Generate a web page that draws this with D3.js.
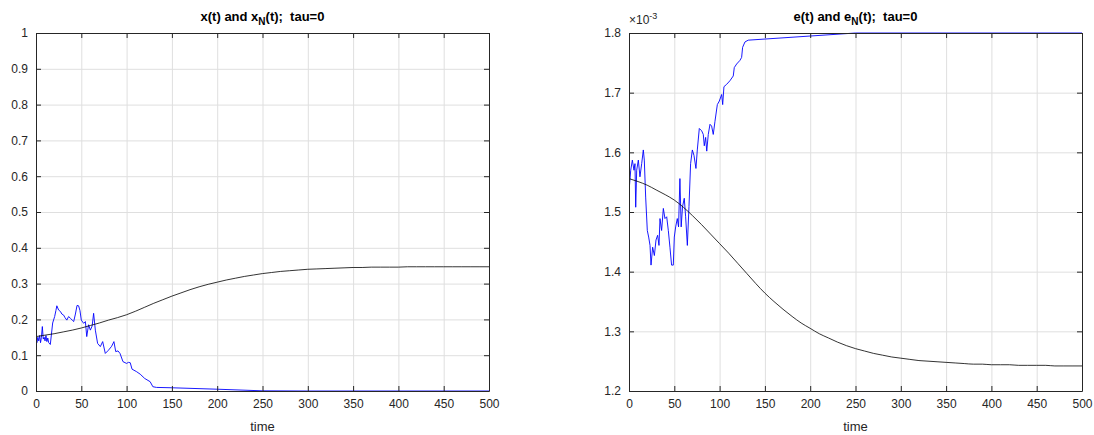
<!DOCTYPE html>
<html>
<head>
<meta charset="utf-8">
<script src="https://cdn.jsdelivr.net/npm/d3@7"></script>
<style>
  body { margin: 0; background: #fff; }
  svg { display: block; font-family: "Liberation Sans", Arial, sans-serif; }
  text { white-space: pre; }
</style>
</head>
<body>
<svg id="chart" width="1094" height="435"></svg>
<script>
// time grid for the smooth (mean field) curves
const tSmooth = d3.range(0, 501, 10);

// x(t) - black
const xMean = [0.152,0.156,0.160,0.165,0.170,0.176,0.183,0.190,0.198,0.205,
               0.213,0.223,0.234,0.245,0.255,0.265,0.274,0.283,0.291,0.298,
               0.304,0.310,0.315,0.320,0.324,0.328,0.331,0.334,0.336,0.338,
               0.340,0.341,0.342,0.343,0.344,0.345,0.345,0.346,0.346,0.346,
               0.346,0.347,0.347,0.347,0.347,0.347,0.347,0.347,0.347,0.347,0.347];

// x_N(t) - blue
const xNTime = [0,1,2,3,4,5,6,7,8,9,10,11,12,13,14,15.8,18.4,20.6,22,23,25,27,28.5,30.5,32,34,36,38,40,41.6,
                43.5,45.3,47,48.5,50,52.6,54.5,56,58,60,62,63.6,65.5,68,71,73.6,76.5,80,83.5,86,88,90.5,92.7,
                96,100,102,104,106,111,115,120,126,129,133,150,200,250,300,500];
const xNValue = [0.159,0.135,0.150,0.140,0.155,0.135,0.150,0.180,0.145,0.150,0.140,0.155,0.138,0.148,0.135,0.130,
                 0.190,0.208,0.225,0.238,0.226,0.222,0.215,0.212,0.205,0.198,0.208,0.203,0.198,0.194,
                 0.215,0.239,0.238,0.225,0.198,0.189,0.194,0.152,0.185,0.170,0.182,0.217,0.170,0.133,0.124,0.138,
                 0.105,0.114,0.125,0.138,0.110,0.112,0.105,0.082,0.077,0.080,0.079,0.061,0.054,0.047,0.035,0.026,
                 0.012,0.010,0.009,0.005,0.0005,0,0];

// e(t) - black, in units of 1e-3
const eMean = [1.556,1.551,1.545,1.537,1.529,1.520,1.508,1.494,1.479,1.463,
               1.447,1.431,1.414,1.397,1.380,1.364,1.350,1.337,1.325,1.314,
               1.305,1.296,1.289,1.282,1.276,1.271,1.267,1.263,1.260,1.257,
               1.255,1.253,1.251,1.250,1.249,1.248,1.247,1.246,1.245,1.245,
               1.244,1.244,1.244,1.243,1.243,1.243,1.243,1.242,1.242,1.242,1.242];

// e_N(t) - blue, in units of 1e-3
const eNTime = [0.4,1.9,3.7,5.5,6.6,7.4,8.5,10.3,12.1,14,15.8,16.9,18.4,20.2,21.7,23.2,24.3,26.1,28,29.8,
                31.6,33.1,34.2,36,37.9,39.7,41.6,43.4,45.2,47,48.9,50,51.5,53.3,54.7,56.2,57.6,59.1,61,62.5,
                64.4,66.2,68,69.9,71.7,73.9,75.4,77.6,80.2,82,83.1,84.6,85.8,87.5,89.4,91.2,93,94.9,97.5,99.7,
                102.3,103.4,104.8,107.8,111.4,115.1,116.2,118.8,122.4,124.3,125.4,128,131.6,250,500];
const eNValue = [1.542,1.570,1.587,1.570,1.581,1.508,1.570,1.587,1.559,1.581,1.604,1.587,1.525,1.469,1.458,1.444,
                 1.411,1.441,1.427,1.453,1.461,1.444,1.489,1.469,1.506,1.489,1.492,1.469,1.441,1.411,1.411,1.458,
                 1.475,1.489,1.475,1.556,1.475,1.509,1.523,1.492,1.444,1.509,1.581,1.604,1.595,1.573,1.604,1.640,
                 1.636,1.630,1.611,1.625,1.602,1.630,1.647,1.644,1.630,1.652,1.680,1.686,1.697,1.680,1.710,1.714,
                 1.720,1.728,1.742,1.748,1.754,1.759,1.776,1.785,1.788,1.800,1.800];

const xTicks = d3.range(0, 501, 50);
const leftYTicks = d3.range(0, 1.0001, 0.1);
const rightYTicks = [1.2,1.3,1.4,1.5,1.6,1.7,1.8];

const svg = d3.select("#chart");
const axisColor = "#262626";

function drawPanel(opt) {
  const w = opt.x1 - opt.x0, h = opt.y1 - opt.y0;
  const g = svg.append("g").attr("transform", "translate(" + opt.x0 + "," + opt.y0 + ")");

  const x = d3.scaleLinear().domain([0, 500]).range([0, w]);
  const y = d3.scaleLinear().domain(opt.yDomain).range([h, 0]);

  // grid
  g.append("g").attr("transform", "translate(0," + h + ")")
    .call(d3.axisBottom(x).tickValues(xTicks).tickSize(-h).tickFormat(""))
    .call(s => s.select(".domain").remove())
    .call(s => s.selectAll("line").attr("stroke", "#dfdfdf"));
  g.append("g")
    .call(d3.axisLeft(y).tickValues(opt.yTicks).tickSize(-w).tickFormat(""))
    .call(s => s.select(".domain").remove())
    .call(s => s.selectAll("line").attr("stroke", "#dfdfdf"));

  const clipId = "clip" + opt.id;
  g.append("clipPath").attr("id", clipId)
    .append("rect").attr("x", 0).attr("y", -1).attr("width", w).attr("height", h + 2);

  const plot = g.append("g").attr("clip-path", "url(#" + clipId + ")");

  plot.append("path")
    .datum(opt.blueT.map((t, i) => [t, opt.blueV[i]]))
    .attr("fill", "none").attr("stroke", "#0000ff").attr("stroke-width", 0.9)
    .attr("d", d3.line().x(d => x(d[0])).y(d => y(d[1])));
  plot.append("path")
    .datum(tSmooth.map((t, i) => [t, opt.black[i]]))
    .attr("fill", "none").attr("stroke", "#000").attr("stroke-width", 0.8)
    .attr("d", d3.line().x(d => x(d[0])).y(d => y(d[1])).curve(d3.curveMonotoneX));

  // axes with inward ticks, box on
  const styleAxis = s => {
    s.select(".domain").attr("stroke", axisColor);
    s.selectAll(".tick line").attr("stroke", axisColor);
    s.selectAll("text").attr("fill", axisColor).style("font-size", "12px")
      .style("font-family", "'Liberation Sans', Arial, sans-serif");
  };
  g.append("g").attr("transform", "translate(0," + h + ")")
    .call(d3.axisBottom(x).tickValues(xTicks).tickSizeInner(-5).tickSizeOuter(0).tickPadding(8))
    .call(styleAxis);
  g.append("g")
    .call(d3.axisTop(x).tickValues(xTicks).tickSizeInner(-5).tickSizeOuter(0).tickFormat(""))
    .call(styleAxis);
  g.append("g")
    .call(d3.axisLeft(y).tickValues(opt.yTicks).tickSizeInner(-5).tickSizeOuter(0).tickPadding(8)
      .tickFormat(opt.yFormat))
    .call(styleAxis);
  g.append("g").attr("transform", "translate(" + w + ",0)")
    .call(d3.axisRight(y).tickValues(opt.yTicks).tickSizeInner(-5).tickSizeOuter(0).tickFormat(""))
    .call(styleAxis);

  // title with subscript
  const title = g.append("text")
    .attr("x", w / 2).attr("y", -12)
    .attr("text-anchor", "middle")
    .attr("fill", "#000")
    .style("font-size", "13px").style("font-weight", "bold");
  title.append("tspan").text(opt.title[0]);
  title.append("tspan").attr("dy", 4).style("font-size", "10px").text("N");
  title.append("tspan").attr("dy", -4).text(opt.title[1]);

  // x label
  g.append("text")
    .attr("x", w / 2).attr("y", h + 40)
    .attr("text-anchor", "middle")
    .attr("fill", axisColor)
    .style("font-size", "13px")
    .text("time");

  if (opt.exponent) {
    const ex = g.append("text").attr("x", 0).attr("y", -9)
      .attr("fill", axisColor).style("font-size", "12px");
    ex.append("tspan").text("\u00d710");
    ex.append("tspan").attr("dy", -5).style("font-size", "9px").text("-3");
  }
}

drawPanel({
  id: "L", x0: 36, x1: 489, y0: 33, y1: 391,
  yDomain: [0, 1], yTicks: leftYTicks,
  yFormat: d => d3.format("~g")(+d.toFixed(1)),
  blueT: xNTime, blueV: xNValue, black: xMean,
  title: ["x(t) and x", "(t);  tau=0"]
});

drawPanel({
  id: "R", x0: 629, x1: 1082, y0: 33, y1: 391,
  yDomain: [1.2, 1.8], yTicks: rightYTicks,
  yFormat: d => d.toFixed(1),
  blueT: eNTime, blueV: eNValue, black: eMean,
  title: ["e(t) and e", "(t);  tau=0"],
  exponent: true
});
</script>
</body>
</html>
